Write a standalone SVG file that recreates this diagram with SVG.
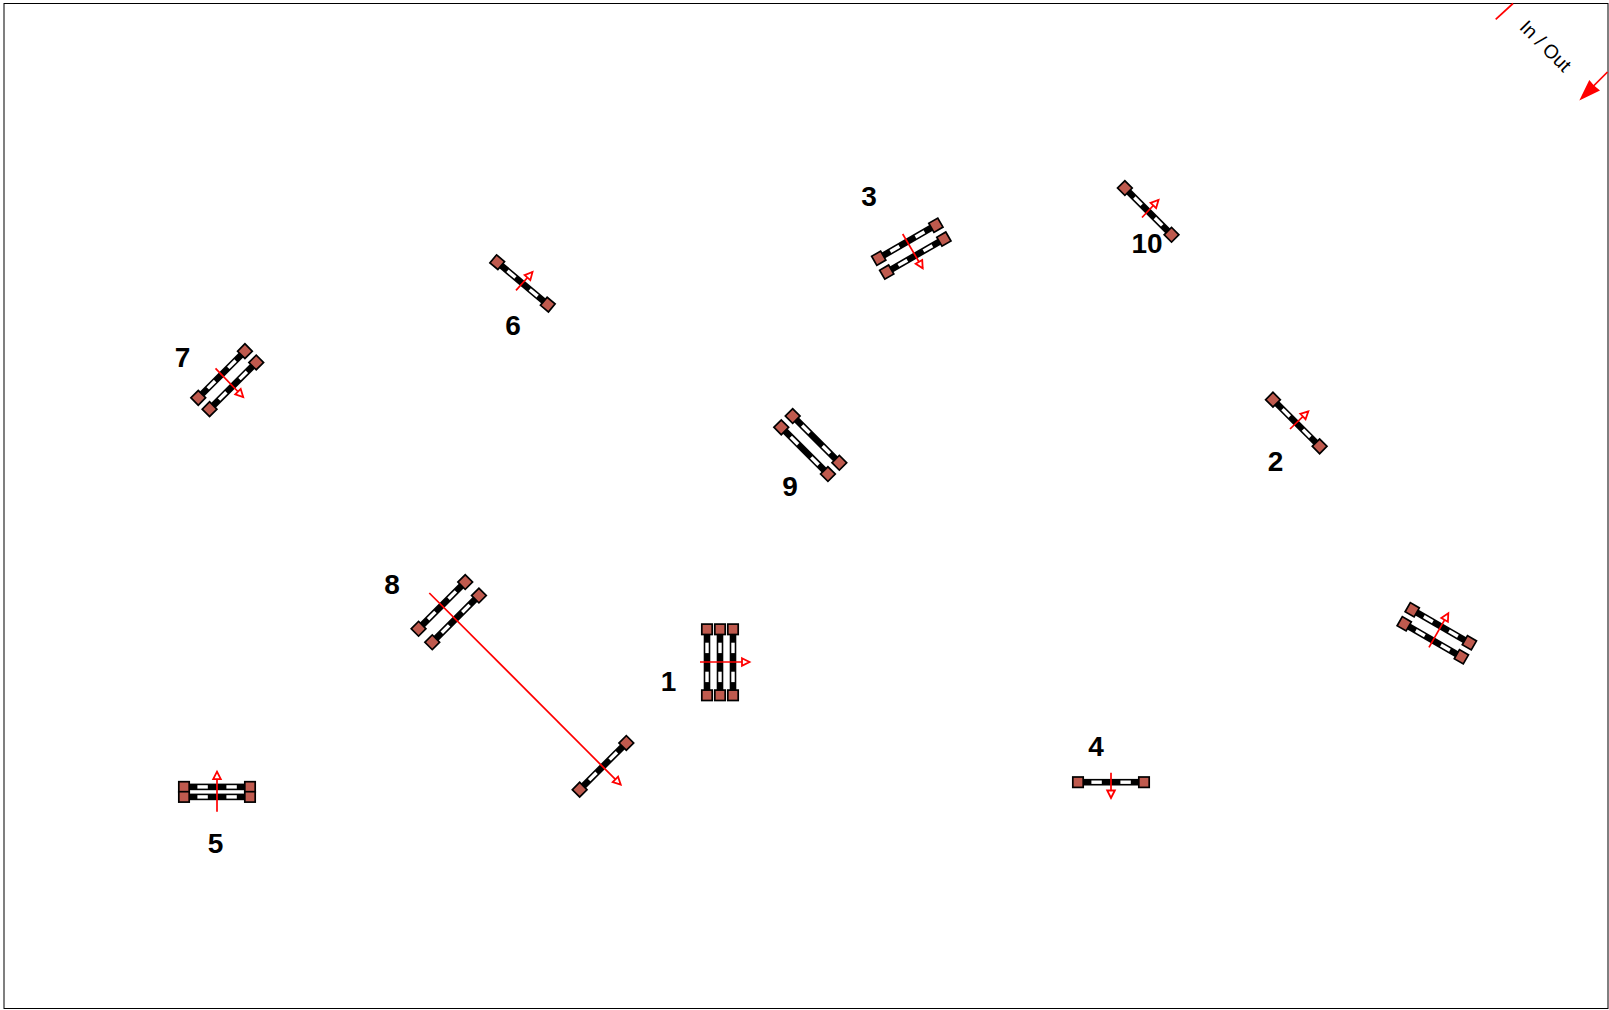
<svg xmlns="http://www.w3.org/2000/svg" xmlns:xlink="http://www.w3.org/1999/xlink" width="1609" height="1010" viewBox="0 0 1609 1010">
<style>
.num{font-family:"Liberation Sans",Arial,sans-serif;font-weight:700;font-size:28px;fill:#000;text-anchor:middle}
.lbl{font-family:"Liberation Sans",Arial,sans-serif;font-size:19.3px;fill:#000;text-anchor:middle}
.arr{stroke:#f00;stroke-width:1.7;fill:none;marker-end:url(#open)}
</style>
<defs>
<marker id="open" markerUnits="userSpaceOnUse" markerWidth="14" markerHeight="12" refX="10" refY="5" orient="auto" overflow="visible"><path d="M2.5,1.2L10,5L2.5,8.8Z" fill="#fff" stroke="#f00" stroke-width="1.8"/></marker>
<g id="h">
<rect x="-29" y="-3.3" width="58" height="6.6" fill="#000"/>
<rect x="-19.6" y="-1.7" width="10.4" height="3.4" fill="#fff"/>
<rect x="9.4" y="-1.7" width="10.4" height="3.4" fill="#fff"/>
<rect x="-38.2" y="-5.2" width="10.4" height="10.4" fill="#bf5a4e" stroke="#000" stroke-width="1.7"/>
<rect x="27.8" y="-5.2" width="10.4" height="10.4" fill="#bf5a4e" stroke="#000" stroke-width="1.7"/>
</g>
</defs>
<rect x="4" y="3.5" width="1604" height="1005" fill="#fff" stroke="#000" stroke-width="1"/>
<g id="jump1"><use xlink:href="#h" href="#h" transform="translate(707 662.3) rotate(90)"/><use xlink:href="#h" href="#h" transform="translate(720 662.3) rotate(90)"/><use xlink:href="#h" href="#h" transform="translate(733 662.3) rotate(90)"/><text class="num" x="668.5" y="691">1</text></g>
<g id="jump2"><use xlink:href="#h" href="#h" transform="translate(1296.3 423) rotate(45)"/><text class="num" x="1275.6" y="471.4">2</text></g>
<g id="jump3"><use xlink:href="#h" href="#h" transform="translate(907.3 241.7) rotate(-30)"/><use xlink:href="#h" href="#h" transform="translate(915.3 255.6) rotate(-30)"/><text class="num" x="869" y="205.6">3</text></g>
<g id="jump4"><use xlink:href="#h" href="#h" transform="translate(1111 782.2)"/><text class="num" x="1096" y="756">4</text></g>
<g id="jump5"><use xlink:href="#h" href="#h" transform="translate(217 786.9)"/><use xlink:href="#h" href="#h" transform="translate(217 796.9)"/><text class="num" x="215.5" y="852.6">5</text></g>
<g id="jump6"><use xlink:href="#h" href="#h" transform="translate(522.5 283.4) rotate(40)"/><text class="num" x="513" y="334.6">6</text></g>
<g id="jump7"><use xlink:href="#h" href="#h" transform="translate(221.6 374.5) rotate(-45)"/><use xlink:href="#h" href="#h" transform="translate(232.9 385.8) rotate(-45)"/><text class="num" x="182.6" y="366.5">7</text></g>
<g id="jump8"><use xlink:href="#h" href="#h" transform="translate(441.9 605.4) rotate(-45)"/><use xlink:href="#h" href="#h" transform="translate(455.6 618.9) rotate(-45)"/><use xlink:href="#h" href="#h" transform="translate(603 766.3) rotate(-45)"/><text class="num" x="392" y="593.8">8</text></g>
<g id="jump9"><use xlink:href="#h" href="#h" transform="translate(816 439.4) rotate(45)"/><use xlink:href="#h" href="#h" transform="translate(804.6 450.7) rotate(45)"/><text class="num" x="790" y="496.4">9</text></g>
<g id="jump10"><use xlink:href="#h" href="#h" transform="translate(1148.2 211.4) rotate(45)"/><text class="num" x="1147" y="253.2">10</text></g>
<g id="jump11"><use xlink:href="#h" href="#h" transform="translate(1440.8 626.3) rotate(30)"/><use xlink:href="#h" href="#h" transform="translate(1432.8 640.3) rotate(30)"/></g>
<g id="inout"><text class="lbl" transform="translate(1545.5 46) rotate(45)" y="6.5">In / Out</text></g>
<g id="connectors">
<path class="arr" d="M700 662H749.5"/>
<path class="arr" d="M1290 429L1308.3 411.3"/>
<path class="arr" d="M902.7 234L922.7 268.3"/>
<path class="arr" d="M1111 772.7V798"/>
<path class="arr" d="M217 811.7V771.7"/>
<path class="arr" d="M516 290.4L532.5 272"/>
<path class="arr" d="M215.5 368.4L243.2 397"/>
<path class="arr" d="M429.3 593L620.7 784.7"/>
<path class="arr" d="M1142 217.5L1158.5 200"/>
<path class="arr" d="M1429 647.3L1448.3 613.3"/>
<path d="M1495.7 19.3L1513 3.5" stroke="#f00" stroke-width="1.7" fill="none"/>
<path d="M1607.5 72L1590 89.5" stroke="#f00" stroke-width="1.7" fill="none"/>
<path d="M1579.3 100.5L1589.3 80L1594 85.5L1600 90.5Z" fill="#f00"/>
</g>
</svg>
